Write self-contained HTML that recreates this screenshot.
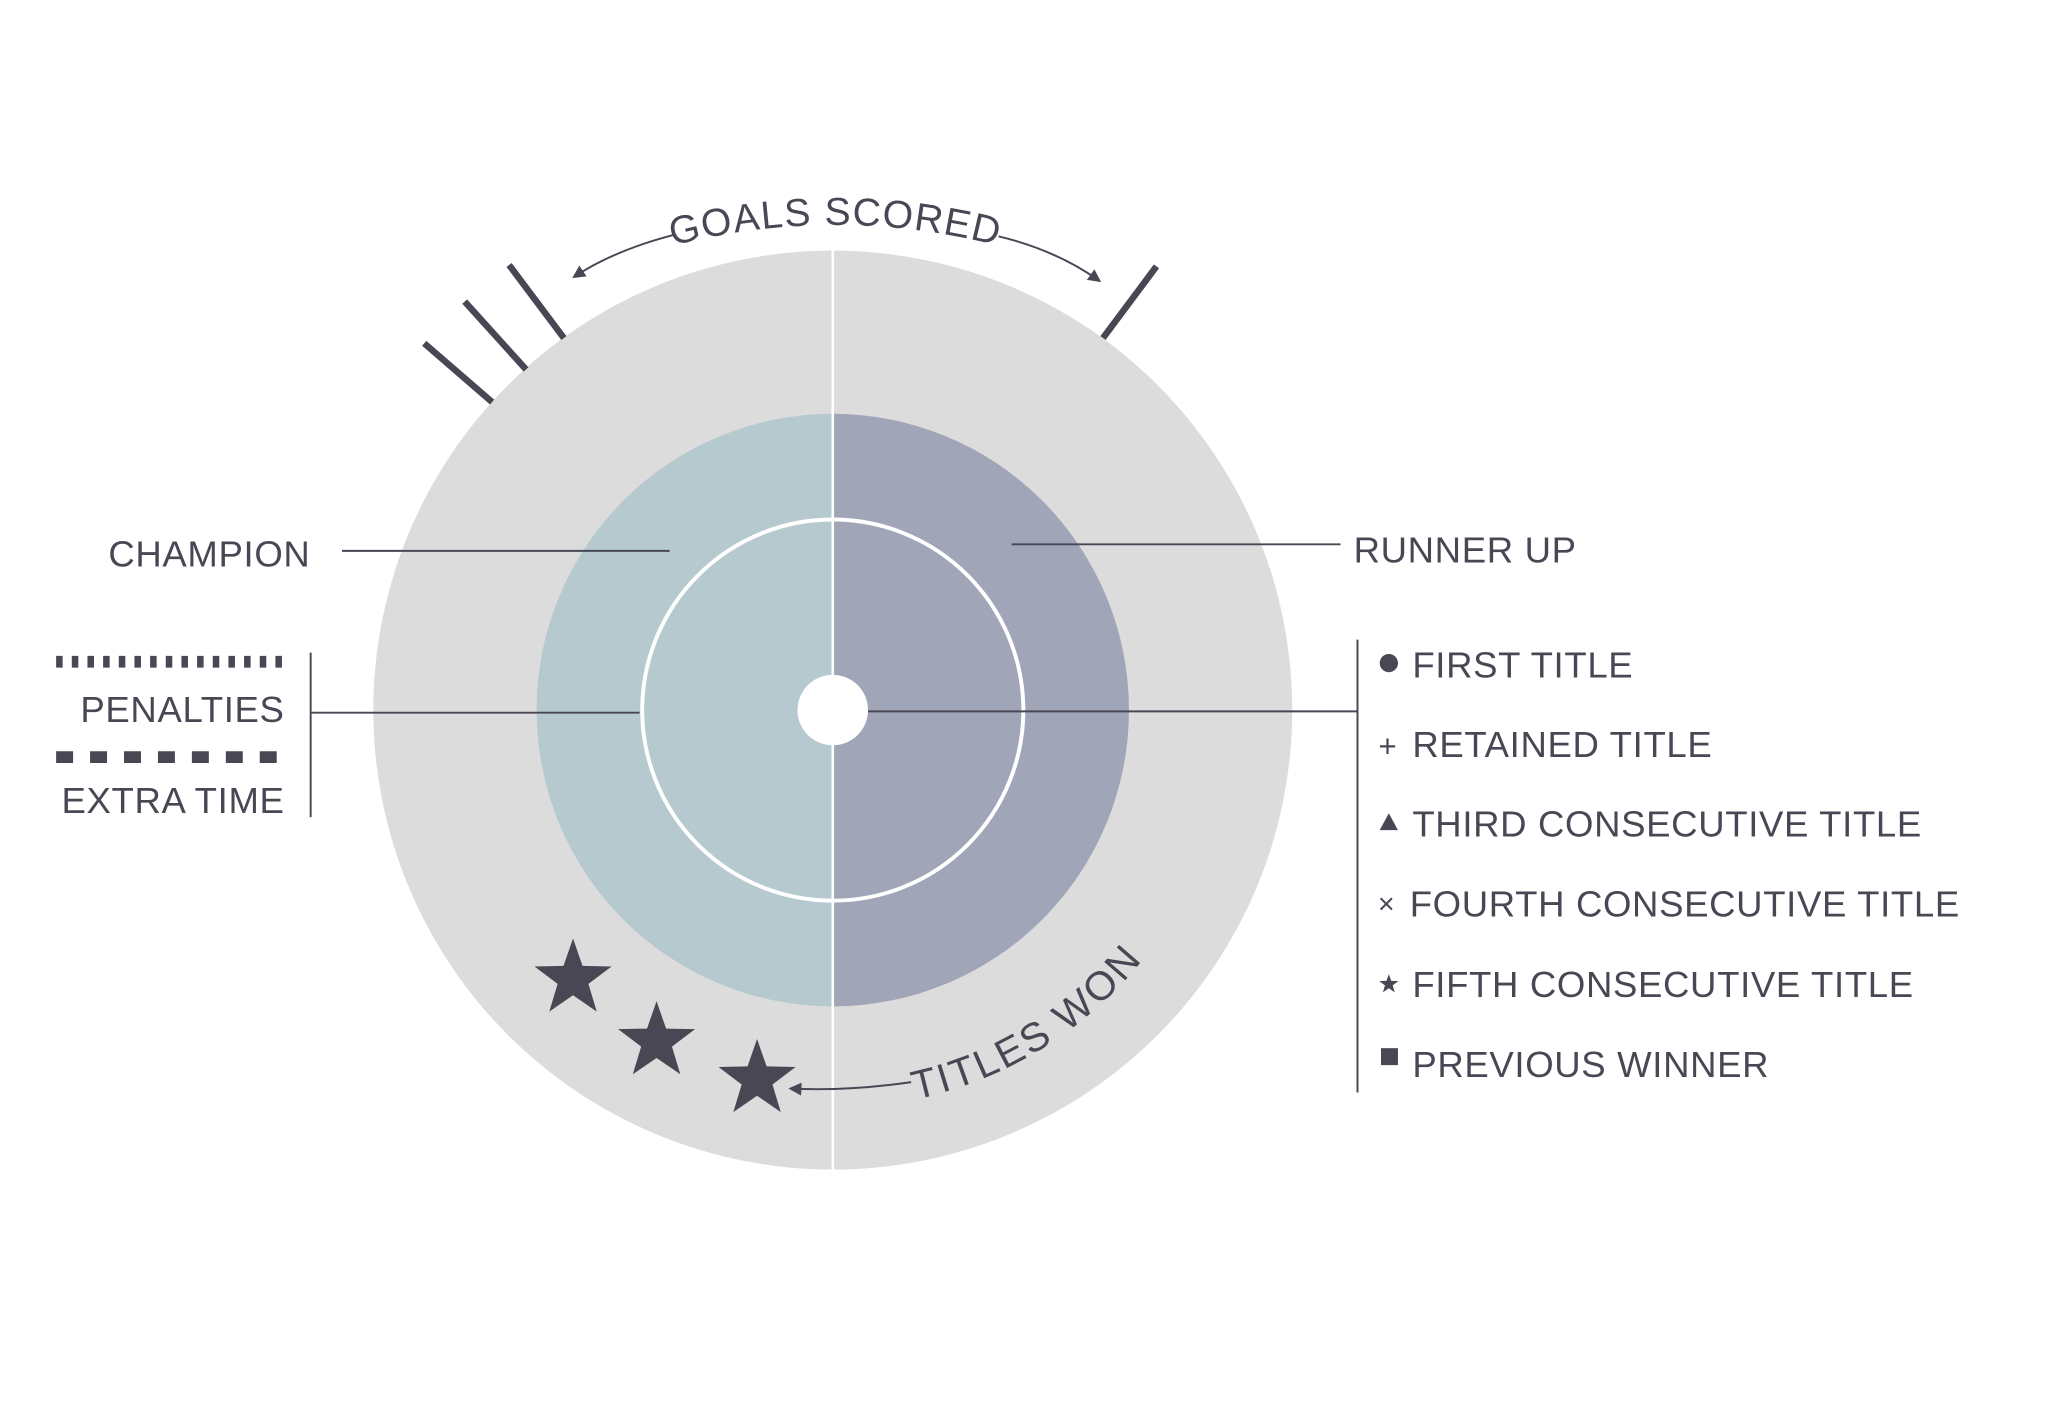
<!DOCTYPE html>
<html><head><meta charset="utf-8"><style>
html,body{margin:0;padding:0;background:#fff;}
svg{display:block;}
text{font-family:"Liberation Sans",sans-serif;fill:#4a4754;}
</style></head><body>
<svg width="2048" height="1422" viewBox="0 0 1569 1089.4" xmlns="http://www.w3.org/2000/svg">
<defs>
<marker id="ah" markerWidth="10" markerHeight="10" refX="8" refY="5" orient="auto" markerUnits="userSpaceOnUse">
<path d="M0,0 L10,5 L0,10 z" fill="#4a4754"/></marker>
<path id="gpath" d="M 400,234 A 498 498 0 0 1 880,234" fill="none"/>
<path id="tpath" d="M 701.4,842.3 A 305 305 0 0 0 902,696.5" fill="none"/>
<g id="star"><polygon points="0,-31 7.3,-10 29.5,-9.6 11.8,3.8 18.2,25 0,12.5 -18.2,25 -11.8,3.8 -29.5,-9.6 -7.3,-10" fill="#4a4754"/></g>
</defs>
<circle cx="638" cy="544" r="352" fill="#dcdcdc"/>
<path d="M638,317 A227 227 0 0 0 638,771 z" fill="#b5c9cf"/>
<path d="M638,317 A227 227 0 0 1 638,771 z" fill="#a0a5b7"/>
<circle cx="638" cy="544" r="146" fill="none" stroke="#fff" stroke-width="3"/>
<line x1="638" y1="191" x2="638" y2="897" stroke="#fff" stroke-width="2"/>
<circle cx="638" cy="544" r="27" fill="#fff"/>
<g stroke="#4a4754" stroke-width="5">
<line x1="325" y1="263" x2="377" y2="308"/>
<line x1="356" y1="231" x2="403" y2="283"/>
<line x1="390" y1="203" x2="432" y2="259"/>
<line x1="886" y1="204" x2="845" y2="259"/>
</g>
<g fill="none" stroke="#4a4754" stroke-width="1.5">
<path d="M516,180 Q470,192 440,212" marker-end="url(#ah)"/>
<path d="M765,181 Q810,192 842,215" marker-end="url(#ah)"/>
<path d="M698,829 Q650,836 606,834" marker-end="url(#ah)"/>
<line x1="262" y1="422" x2="513" y2="422"/>
<line x1="775" y1="417" x2="1027" y2="417"/>
<line x1="238" y1="500" x2="238" y2="626"/>
<line x1="238" y1="546" x2="490" y2="546"/>
<line x1="665" y1="545" x2="1040" y2="545"/>
<line x1="1040" y1="490" x2="1040" y2="837"/>
</g>
<line x1="43" y1="507" x2="220" y2="507" stroke="#4a4754" stroke-width="9" stroke-dasharray="5 7"/>
<line x1="43" y1="580" x2="220" y2="580" stroke="#4a4754" stroke-width="9" stroke-dasharray="13 13"/>
<text font-size="30" letter-spacing="1"><textPath href="#gpath" startOffset="50%" text-anchor="middle">GOALS SCORED</textPath></text>
<text font-size="31" letter-spacing="2"><textPath href="#tpath">TITLES WON</textPath></text>
<use href="#star" x="439" y="750"/>
<use href="#star" x="503" y="798"/>
<use href="#star" x="580" y="827"/>
<g font-size="28" letter-spacing="0.5">
<text x="83" y="434">CHAMPION</text>
<text x="1037" y="431">RUNNER UP</text>
<text x="218" y="553" text-anchor="end">PENALTIES</text>
<text x="218" y="623" text-anchor="end">EXTRA TIME</text>
<text x="1082" y="519">FIRST TITLE</text>
<text x="1082" y="580">RETAINED TITLE</text>
<text x="1082" y="641">THIRD CONSECUTIVE TITLE</text>
<text x="1080" y="702">FOURTH CONSECUTIVE TITLE</text>
<text x="1082" y="764">FIFTH CONSECUTIVE TITLE</text>
<text x="1082" y="825">PREVIOUS WINNER</text>
</g>
<g fill="#4a4754">
<circle cx="1064" cy="508" r="7"/>
<text x="1063" y="580" font-size="24" text-anchor="middle">+</text>
<polygon points="1064,623 1071,636 1057,636"/>
<text x="1062" y="700" font-size="22" text-anchor="middle">×</text>
<use href="#star" transform="translate(1064,754) scale(0.25)"/>
<rect x="1058" y="803" width="13" height="13"/>
</g>
</svg>
</body></html>
